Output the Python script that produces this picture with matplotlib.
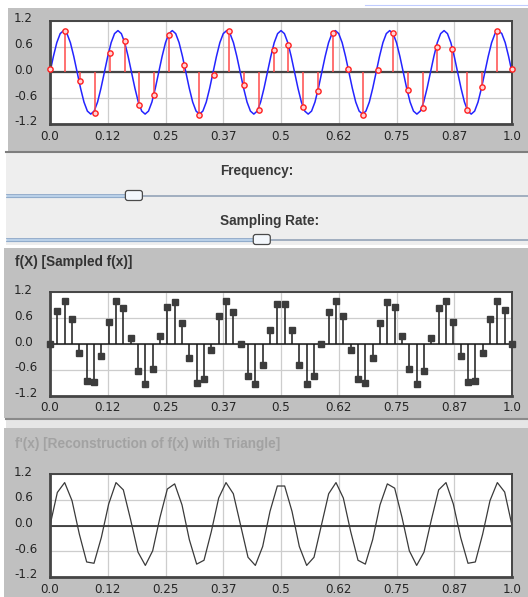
import numpy as np
import matplotlib.pyplot as plt
from matplotlib.patches import Rectangle, FancyBboxPatch
from matplotlib import transforms

W, H = 528, 597

# axis ticks (labels are truncated like in the applet)
x_ticks = [0.0, 0.125, 0.25, 0.375, 0.5, 0.625, 0.75, 0.875, 1.0]
x_labels = ['0.0', '0.12', '0.25', '0.37', '0.5', '0.62', '0.75', '0.87', '1.0']
y_ticks = [1.2, 0.6, 0.0, -0.6, -1.2]
y_labels = ['1.2', '0.6', '0.0', '-0.6', '-1.2']

# continuous signal f(x), read at 16 points per cycle
signal = [
    0.00, 0.37, 0.69, 0.90, 0.97, 0.90, 0.69, 0.37, 0.00, -0.37, -0.69, -0.90, -0.97, -0.90, -0.69, -0.37,
    0.00, 0.37, 0.69, 0.90, 0.97, 0.90, 0.69, 0.37, 0.00, -0.37, -0.69, -0.90, -0.97, -0.90, -0.69, -0.37,
    0.00, 0.37, 0.69, 0.90, 0.97, 0.90, 0.69, 0.37, 0.00, -0.37, -0.69, -0.90, -0.97, -0.90, -0.69, -0.37,
    0.00, 0.37, 0.69, 0.90, 0.97, 0.90, 0.69, 0.37, 0.00, -0.37, -0.69, -0.90, -0.97, -0.90, -0.69, -0.37,
    0.00, 0.37, 0.69, 0.90, 0.97, 0.90, 0.69, 0.37, 0.00, -0.37, -0.69, -0.90, -0.97, -0.90, -0.69, -0.37,
    0.00, 0.37, 0.69, 0.90, 0.97, 0.90, 0.69, 0.37, 0.00, -0.37, -0.69, -0.90, -0.97, -0.90, -0.69, -0.37,
    0.00, 0.37, 0.69, 0.90, 0.97, 0.90, 0.69, 0.37, 0.00, -0.37, -0.69, -0.90, -0.97, -0.90, -0.69, -0.37,
    0.00, 0.37, 0.69, 0.90, 0.97, 0.90, 0.69, 0.37, 0.00, -0.37, -0.69, -0.90, -0.97, -0.90, -0.69, -0.37,
    0.00, 0.37, 0.69, 0.90, 0.97, 0.90, 0.69, 0.37, 0.00,
]

# samples shown on the top panel (red)
top_samples = [0.08, 0.95, -0.21, -0.95, 0.45, 0.72, -0.75, -0.52, 0.86, 0.18, -0.99,
               -0.07, 0.95, -0.30, -0.88, 0.53, 0.63, -0.81, -0.43, 0.91, 0.08, -0.99,
               0.05, 0.91, -0.40, -0.83, 0.60, 0.54, -0.87, -0.33, 0.95, 0.08]

# sampled f(x) (middle panel), also used for triangle reconstruction
mid_samples = [0.0, 0.77, 1.0, 0.58, -0.2, -0.85, -0.88, -0.28, 0.5, 1.0,
               0.83, 0.13, -0.62, -0.93, -0.59, 0.19, 0.85, 0.97, 0.48, -0.33,
               -0.9, -0.81, -0.14, 0.64, 1.0, 0.74, 0.0, -0.74, -0.93, -0.49,
               0.33, 0.92, 0.92, 0.33, -0.49, -0.93, -0.74, 0.0, 0.74, 1.0,
               0.64, -0.14, -0.81, -0.9, -0.33, 0.48, 0.97, 0.87, 0.19, -0.59,
               -0.93, -0.62, 0.13, 0.83, 1.0, 0.5, -0.28, -0.88, -0.85, -0.2,
               0.58, 1.0, 0.78, 0.0]

freq_slider = 0.245
rate_slider = 0.49

PANEL = '#c0c0c0'
LIGHT = '#eeeeee'

fig = plt.figure(figsize=(W / 100, H / 100), dpi=100, facecolor='white')

# background in pixel coordinates
bg = fig.add_axes([0, 0, 1, 1])
bg.set_xlim(0, W)
bg.set_ylim(H, 0)
bg.axis('off')

bg.add_patch(Rectangle((8, 8), W - 8, 143, color=PANEL, lw=0))
bg.plot([365, W], [5, 5], color='#c0ccff', lw=0.8)
bg.plot([6, W], [151.5, 151.5], color='#7e7e7e', lw=1.5)
bg.add_patch(Rectangle((6, 153), W - 6, 92, color=LIGHT, lw=0))
bg.add_patch(Rectangle((4, 248), W - 4, 170, color=PANEL, lw=0))
bg.plot([6, W], [418.5, 418.5], color='#8a8a8a', lw=1.5)
bg.add_patch(Rectangle((6, 420), W - 6, 8, color='#e6e6e6', lw=0))
bg.add_patch(Rectangle((4, 428), W - 4, H - 428, color=PANEL, lw=0))

title_font = dict(family='Liberation Sans', weight='bold', fontsize=9.8)
bg.text(220, 171, 'Frequency:', color='#3a3a3a', ha='left', va='center', **title_font)
bg.text(220, 221, 'Sampling Rate:', color='#3a3a3a', ha='left', va='center', **title_font)
bg.text(15, 262, 'f(X) [Sampled f(x)]', color='#333333', ha='left', va='center', **title_font)
bg.text(15, 444, "f'(x) [Reconstruction of f(x) with Triangle]", color='#a2a2a2',
        ha='left', va='center', **title_font)


def slider(frac, y):
    x0, x1 = 6, W
    tx = x0 + frac * (x1 - x0)
    bg.plot([tx, x1], [y, y], color='#8c9db2', lw=1.1, solid_capstyle='butt')
    bg.plot([x0, tx], [y, y], color='#b9d0e8', lw=2.4, solid_capstyle='butt')
    bg.plot([x0, tx], [y - 1.6, y - 1.6], color='#8aa5c6', lw=0.6)
    bg.plot([x0, tx], [y + 1.6, y + 1.6], color='#8aa5c6', lw=0.6)
    bg.add_patch(FancyBboxPatch((tx - 8.5, y - 5), 17, 10,
                                boxstyle='round,pad=0,rounding_size=2.5',
                                fc='#f3f7fc', ec='#4a4a4a', lw=0.9, zorder=5))


slider(freq_slider, 195.5)
slider(rate_slider, 239.5)
bg.plot([6, W], [246, 246], color='white', lw=1.2)


def px_axes(left, top, right, bottom):
    return fig.add_axes([left / W, 1 - bottom / H, (right - left) / W, (bottom - top) / H])


def style(ax):
    ax.set_facecolor('white')
    ax.set_xlim(0, 1)
    ax.set_ylim(-1.2, 1.2)
    ax.set_xticks(x_ticks)
    ax.set_xticklabels(x_labels)
    ax.set_yticks(y_ticks)
    ax.set_yticklabels([])
    ax.tick_params(length=0, pad=4, labelsize=8.6, colors='#262626')
    ax.grid(color='#cdcdcd', lw=0.9)
    ax.set_axisbelow(True)
    for s in ax.spines.values():
        s.set_color('#454545')
        s.set_linewidth(1.4)
    ax.spines['left'].set_linewidth(2)
    ax.spines['bottom'].set_linewidth(2)
    trans = transforms.blended_transform_factory(fig.transFigure, ax.transData)
    trans = transforms.offset_copy(trans, fig=fig, y=-1.5, units='dots')
    for v, lab in zip(y_ticks, y_labels):
        ax.text(14 / W, v, lab, transform=trans, ha='left', va='baseline',
                fontsize=8.6, color='#262626', clip_on=False)


# top panel: signal with samples
ax1 = px_axes(50, 20.7, 512, 124)
style(ax1)
x_sig = np.linspace(0, 1, len(signal))
x_top = np.linspace(0, 1, len(top_samples))
ax1.axhline(0, color='#454545', lw=1.6, zorder=1)
ax1.plot(x_sig, signal, color='#2424ff', lw=1.1, zorder=2)
ax1.vlines(x_top, 0, top_samples, color='#ff4a4a', lw=1.1, zorder=3)
ax1.plot(x_top, top_samples, 'o', ms=3.8, mfc='#ffd4d4', mec='#ff2020', mew=1.0,
         zorder=4, clip_on=False)

# middle panel: sampled f(x)
ax2 = px_axes(50, 292.3, 512, 395.7)
style(ax2)
x_mid = np.linspace(0, 1, len(mid_samples))
ax2.axhline(0, color='#1a1a1a', lw=1.1, zorder=1)
ax2.vlines(x_mid, 0, mid_samples, color='#1a1a1a', lw=1.1, zorder=2)
ax2.plot(x_mid, mid_samples, 's', ms=4.6, color='#3c3c3c', zorder=3, clip_on=False)

# bottom panel: triangle reconstruction
ax3 = px_axes(50, 474, 512, 577)
style(ax3)
ax3.axhline(0, color='#1a1a1a', lw=1.1, zorder=1)
ax3.plot(x_mid, mid_samples, color='#3a3a3a', lw=0.9, zorder=2)

fig.savefig('out.png', dpi=100)
